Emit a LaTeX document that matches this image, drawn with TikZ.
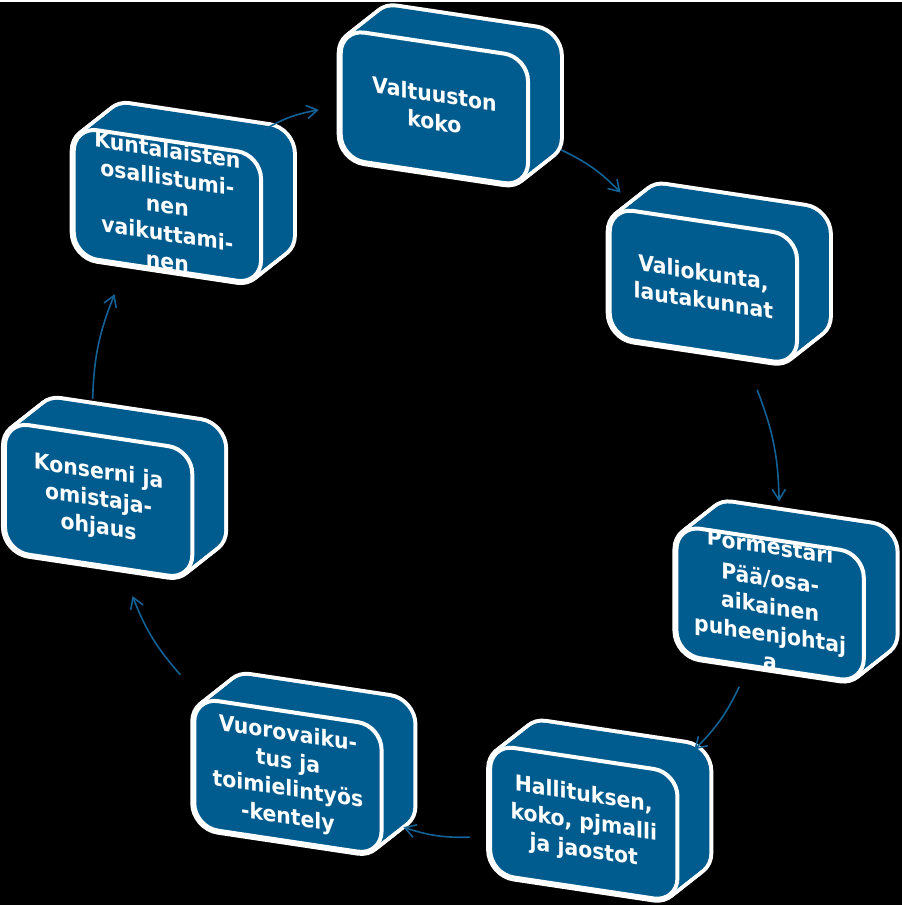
\documentclass[tikz,border=0pt]{standalone}
\usepackage{fontspec}
\setmainfont{DejaVu Sans}
\usetikzlibrary{arrows.meta}
\definecolor{tileblue}{RGB}{0,92,142}
\definecolor{linkblue}{RGB}{18,98,150}

\begin{document}
\begin{tikzpicture}[
    x=0.75pt, y=-0.75pt,
    >={Straight Barb[length=8pt,width=10pt]},
    link/.style={->, linkblue, line width=1.2pt, bend left=10},
    shell/.style={draw=white, line width=6pt, rounded corners=18pt},
    body/.style={fill=tileblue, rounded corners=18pt},
    rim/.style={draw=white, line width=3pt, rounded corners=18pt},
    label/.style={text=white, font=\bfseries\fontsize{16.5}{21}\selectfont,
      align=center, transform shape, xscale=0.93, inner sep=0pt}
  ]

  \def\W{94}        % half width of the front face
  \def\H{65}        % half height of the front face
  \def\Dx{32}       % depth of the block
  \def\Dy{-30}
  \def\Slant{-0.15} % tilt of the faces
  \def\Steps{12}
  \def\Tight{\fontsize{16.5}{19}\selectfont} % long texts

  % one block: centre x, centre y, name, text
  \def\Block#1#2#3#4{%
    \begin{scope}[shift={(#1,#2)}, yslant=\Slant]
      \foreach \k in {0,...,\Steps}
        \draw[shell] ({\k*\Dx/\Steps-\W},{\k*\Dy/\Steps-\H}) rectangle ++({2*\W},{2*\H});
      \foreach \k in {0,...,\Steps}
        \fill[body] ({\k*\Dx/\Steps-\W},{\k*\Dy/\Steps-\H}) rectangle ++({2*\W},{2*\H});
      \node[label] (#3) at (0,0) {#4};
      \draw[rim] (-\W,-\H) rectangle (\W,\H);
    \end{scope}}

  \fill[black] (0,0) rectangle (905,906);

  % Blocks
  \Block{436}{106}{valtuusto}{Valtuuston\\koko}
  \Block{706}{285}{valiokunta}{Valiokunta,\\lautakunnat}
  \Block{773}{604}{pormestari}{\Tight Pormestari\\[3pt]Pää/osa-\\aikainen\\puheenjohtaj\\a}
  \Block{586}{824}{hallitus}{Hallituksen,\\koko, pjmalli\\ja jaostot}
  \Block{289}{777}{vuorovaikutus}{Vuorovaiku-\\tus ja\\toimielintyös\\-kentely}
  \Block{99}{500}{konserni}{Konserni ja\\omistaja-\\ohjaus}
  \Block{168}{204}{kuntalaiset}{\Tight Kuntalaisten\\osallistumi-\\nen\\vaikuttami-\\nen}

  % Arrow ends
  \coordinate (kunta-out) at (265,128);
  \coordinate (valt-in) at (320,108);
  \coordinate (valt-out) at (563,148);
  \coordinate (valio-in) at (623,191);
  \coordinate (valio-out) at (760,389);
  \coordinate (pormo-in) at (782,501);
  \coordinate (pormo-out) at (742,687);
  \coordinate (halli-in) at (697,750);
  \coordinate (halli-out) at (472,838);
  \coordinate (vuoro-in) at (405,828);
  \coordinate (vuoro-out) at (181,675);
  \coordinate (kons-in) at (133,596);
  \coordinate (kons-out) at (93,398);
  \coordinate (kunta-in) at (115,293);

  % Cycle
  \draw[link] (kunta-out) to (valt-in);
  \draw[link] (valt-out) to (valio-in);
  \draw[link] (valio-out) to (pormo-in);
  \draw[link] (pormo-out) to (halli-in);
  \draw[link] (halli-out) to (vuoro-in);
  \draw[link] (vuoro-out) to (kons-in);
  \draw[link] (kons-out) to (kunta-in);
\end{tikzpicture}
\end{document}
